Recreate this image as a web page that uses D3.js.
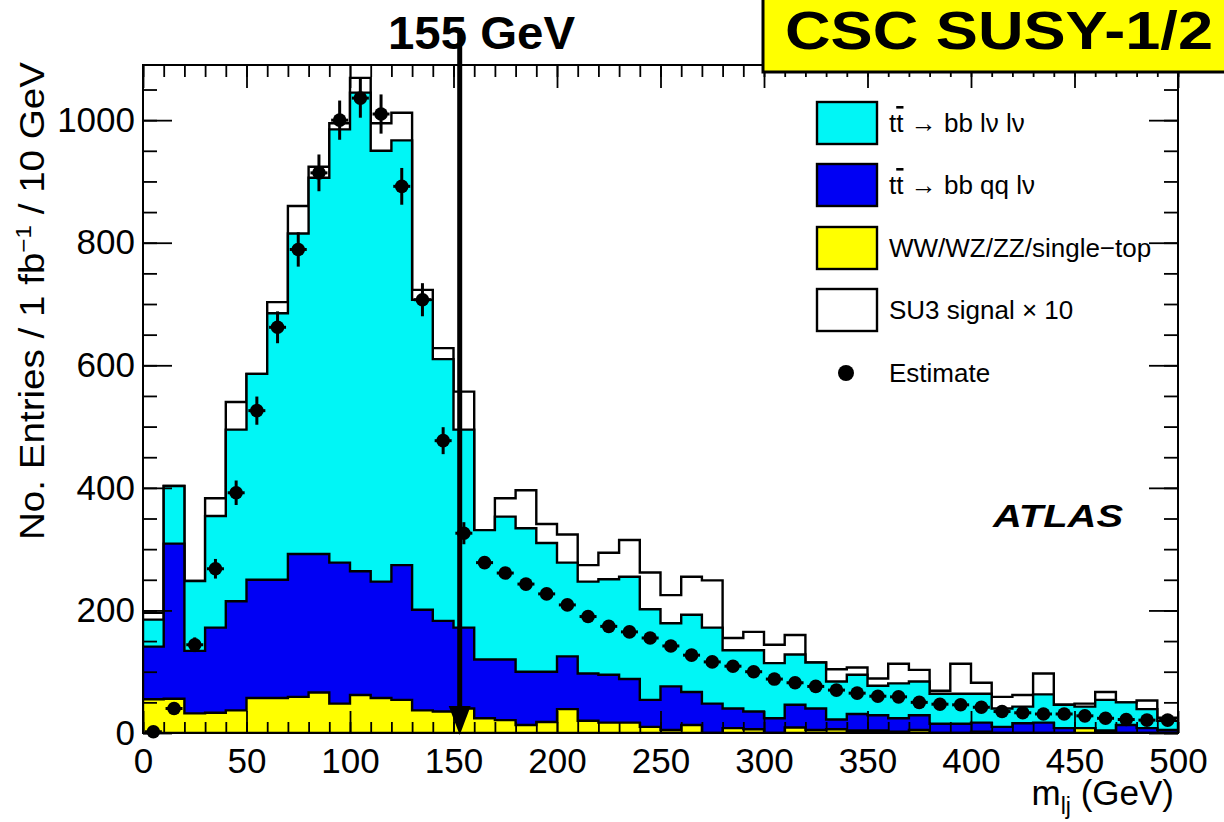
<!DOCTYPE html>
<html>
<head>
<meta charset="utf-8">
<script src="https://cdn.jsdelivr.net/npm/d3@7"></script>
<style>
  body { margin: 0; background: #fff; }
  svg { display: block; font-family: "Liberation Sans", Arial, sans-serif; }
</style>
</head>
<body>
<svg id="chart" width="1224" height="822"></svg>
<script>
// bin lower edges (GeV), 10 GeV bins
const binLow = [0, 10, 20, 30, 40, 50, 60, 70, 80, 90,
  100, 110, 120, 130, 140, 150, 160, 170, 180, 190,
  200, 210, 220, 230, 240, 250, 260, 270, 280, 290,
  300, 310, 320, 330, 340, 350, 360, 370, 380, 390,
  400, 410, 420, 430, 440, 450, 460, 470, 480, 490]

// stacked components, entries / 1 fb-1 / 10 GeV
const diboson = [55, 56, 32, 33, 37, 57, 57, 59, 66, 48,
  62, 57, 54, 37, 35, 40, 24, 21, 13, 18,
  39, 20, 17, 17, 10, 5, 13, 0, 8, 6,
  0, 9, 5, 6, 4, 4, 2, 5, 0, 0,
  2, 0, 0, 0, 0, 8, 0, 0, 0, 0]
const ttSemi = [86, 253, 102, 139, 178, 193, 193, 233, 226, 230,
  202, 190, 220, 164, 148, 132, 96, 99, 87, 82,
  86, 77, 78, 71, 44, 71, 54, 48, 32, 29,
  24, 37, 35, 16, 27, 25, 22, 24, 15, 15,
  15, 10, 16, 17, 8, 0, 4, 13, 8, 5]
const ttDilep = [44, 94, 114, 182, 280, 336, 435, 523, 614, 707,
  781, 703, 693, 506, 427, 323, 211, 233, 234, 210,
  153, 150, 156, 167, 148, 103, 126, 124, 95, 100,
  90, 82, 75, 62, 64, 48, 57, 55, 49, 49,
  47, 30, 27, 46, 38, 35, 50, 37, 31, 15]
const su3x10 = [11, 0, 0, 29, 45, 0, 18, 45, 18, 10,
  24, 45, 45, 16, 18, 62, 0, 30, 62, 31,
  46, 27, 43, 60, 60, 46, 62, 77, 20, 30,
  30, 32, 0, 20, 12, 12, 32, 19, 5, 49,
  18, 19, 19, 34, 0, 5, 13, 0, 14, 5]

// estimate points and their errors
const estimate = [2, 40, 144, 268, 392, 526, 662, 789, 914, 1000,
  1036, 1010, 892, 707, 477, 326, 278, 261, 243, 227,
  209, 190, 174, 165, 155, 142, 127, 116, 109, 100,
  88, 82, 76, 70, 65, 60, 59, 50, 47, 46,
  42, 35, 33, 31, 31, 28, 24, 22, 21, 21]
const estErr = [2, 7, 12, 16, 20, 23, 26, 28, 30, 32,
  32, 32, 30, 27, 22, 18, 6, 6, 6, 6,
  5, 5, 5, 5, 5, 5, 5, 5, 4, 4,
  4, 4, 4, 4, 4, 4, 4, 3, 3, 3,
  3, 3, 3, 3, 3, 3, 3, 3, 3, 3]

const seriesKeys = ["diboson", "ttSemi", "ttDilep", "su3"]
const seriesColors = {diboson: "#ffff00", ttSemi: "#0000f4", ttDilep: "#00f6f6", su3: "#ffffff"}

const xTicks = [0, 50, 100, 150, 200, 250, 300, 350, 400, 450, 500]
const yTicks = [0, 200, 400, 600, 800, 1000]
const cutAt = 153   // where the arrow is drawn
const cutLabel = "155 GeV"

const binWidth = 10

let svg = d3.select("#chart")

let plot = {left: 143, right: 1178, top: 65, bottom: 733}

const x = d3.scaleLinear().domain([0, 500]).range([plot.left, plot.right])
const y = d3.scaleLinear().domain([0, 1090]).range([plot.bottom, plot.top])

svg.append("defs").append("clipPath").attr("id", "plotclip")
    .append("rect")
    .attr("x", plot.left).attr("y", plot.top)
    .attr("width", plot.right - plot.left).attr("height", plot.bottom - plot.top)

// STACK
let table = binLow.map((lo, i) => ({
    lo: lo,
    diboson: diboson[i],
    ttSemi: ttSemi[i],
    ttDilep: ttDilep[i],
    su3: su3x10[i]
}))

let stacked = d3.stack().keys(seriesKeys)(table)

let stepArea = d3.area()
    .x(d => x(d[0]))
    .y0(y(0))
    .y1(d => y(d[1]))

let histG = svg.append("g").attr("clip-path", "url(#plotclip)")

// draw from the top layer down, so each outline stays visible
for (let layer of stacked.slice().reverse()) {
    let pts = []
    layer.forEach(d => {
        pts.push([d.data.lo, d[1]])
        pts.push([d.data.lo + binWidth, d[1]])
    })
    histG.append("path")
        .attr("d", stepArea(pts))
        .attr("fill", seriesColors[layer.key])
        .attr("stroke", "#000")
        .attr("stroke-width", 2.4)
        .attr("stroke-linejoin", "miter")
}

// AXES
function tickAxis(axis, vals, size) {
    return axis.tickValues(vals).tickSize(size).tickFormat("")
}
let minorX = d3.range(0, 501, 10)
let minorY = d3.range(0, 1091, 50)

let axG = svg.append("g").attr("class", "axes")

axG.append("g").attr("transform", "translate(0," + plot.bottom + ")")
    .call(tickAxis(d3.axisBottom(x), minorX, -11))
axG.append("g").attr("transform", "translate(0," + plot.bottom + ")")
    .call(d3.axisBottom(x).tickValues(xTicks).tickSize(-22).tickPadding(15).tickFormat(d3.format("d")))
axG.append("g").attr("transform", "translate(0," + plot.top + ")")
    .call(tickAxis(d3.axisTop(x), minorX, -12))
axG.append("g").attr("transform", "translate(0," + plot.top + ")")
    .call(tickAxis(d3.axisTop(x), xTicks, -23))

axG.append("g").attr("transform", "translate(" + plot.left + ",0)")
    .call(tickAxis(d3.axisLeft(y), minorY, -14))
axG.append("g").attr("transform", "translate(" + plot.left + ",0)")
    .call(d3.axisLeft(y).tickValues(yTicks).tickSize(-29).tickPadding(8).tickFormat(d3.format("d")))
axG.append("g").attr("transform", "translate(" + plot.right + ",0)")
    .call(tickAxis(d3.axisRight(y), minorY, -14))
axG.append("g").attr("transform", "translate(" + plot.right + ",0)")
    .call(tickAxis(d3.axisRight(y), yTicks, -29))

axG.selectAll(".domain").remove()
axG.selectAll(".tick line").attr("stroke", "#000").attr("stroke-width", 1.8)
axG.selectAll(".tick text")
    .attr("fill", "#000")
    .style("font-family", "Liberation Sans, Arial, sans-serif")
    .style("font-size", "35px")
// END AXES

svg.append("rect")
    .attr("x", plot.left).attr("y", plot.top)
    .attr("width", plot.right - plot.left).attr("height", plot.bottom - plot.top)
    .attr("fill", "none").attr("stroke", "#000").attr("stroke-width", 2)

// ESTIMATE POINTS
let ptG = svg.append("g")
binLow.forEach((lo, i) => {
    let cx = x(lo + binWidth / 2)
    let cy = y(estimate[i])
    ptG.append("line")
        .attr("x1", cx).attr("x2", cx)
        .attr("y1", y(estimate[i] - estErr[i])).attr("y2", y(estimate[i] + estErr[i]))
        .attr("stroke", "#000").attr("stroke-width", 3)
    ptG.append("line")
        .attr("x1", cx - 8.5).attr("x2", cx + 8.5)
        .attr("y1", cy).attr("y2", cy)
        .attr("stroke", "#000").attr("stroke-width", 3)
    ptG.append("circle")
        .attr("cx", cx).attr("cy", cy).attr("r", 6.8)
        .attr("fill", "#000")
})

// LEGEND
let legendItems = [
    {key: "ttDilep", rest: " \u2192 bb l\u03bd l\u03bd", tt: true},
    {key: "ttSemi", rest: " \u2192 bb qq l\u03bd", tt: true},
    {key: "diboson", label: "WW/WZ/ZZ/single\u2212top"},
    {key: "su3", label: "SU3 signal \u00d7 10"},
    {key: "estimate", label: "Estimate"}
]
let legG = svg.append("g")
let rowY = [123, 185, 248, 310, 373]
legendItems.forEach((it, i) => {
    if (it.key == "estimate") {
        legG.append("circle").attr("cx", 846).attr("cy", rowY[i]).attr("r", 8).attr("fill", "#000")
    } else {
        legG.append("rect")
            .attr("x", 817).attr("y", rowY[i] - 21)
            .attr("width", 60).attr("height", 42)
            .attr("fill", seriesColors[it.key])
            .attr("stroke", "#000").attr("stroke-width", 2.4)
    }
    let t = legG.append("text")
        .attr("x", 889).attr("y", rowY[i] + 9)
        .style("font-size", "26px")
        .attr("fill", "#000")
    if (it.tt) {
        t.append("tspan").text("t")
        t.append("tspan").text("t").style("text-decoration", "overline")
        t.append("tspan").text(it.rest)
    } else {
        t.text(it.label)
    }
})

// ATLAS label
svg.append("text")
    .attr("x", 993).attr("y", 527)
    .style("font-size", "32px").style("font-weight", "bold").style("font-style", "italic")
    .attr("textLength", 130).attr("lengthAdjust", "spacingAndGlyphs")
    .text("ATLAS")

// axis titles
let xt = svg.append("text")
    .attr("x", 1174).attr("y", 805)
    .style("text-anchor", "end")
    .style("font-size", "35px")
xt.append("tspan").text("m")
xt.append("tspan").text("lj").style("font-size", "23px").attr("dy", 9)
xt.append("tspan").text(" (GeV)").attr("dy", -9)

let yt = svg.append("text")
    .attr("transform", "translate(44,301) rotate(-90)")
    .style("text-anchor", "middle")
    .style("font-size", "35px")
    .attr("textLength", 478).attr("lengthAdjust", "spacingAndGlyphs")
yt.append("tspan").text("No. Entries / 1 fb")
yt.append("tspan").text("\u22121").style("font-size", "22px").attr("dy", -13)
yt.append("tspan").text(" / 10 GeV").attr("dy", 13)

// CUT ARROW
let ax = x(cutAt)
svg.append("text")
    .attr("x", 388).attr("y", 49)
    .style("font-size", "46px").style("font-weight", "bold")
    .attr("textLength", 187).attr("lengthAdjust", "spacingAndGlyphs")
    .text(cutLabel)
svg.append("line")
    .attr("x1", ax).attr("x2", ax)
    .attr("y1", 28).attr("y2", plot.bottom - 24)
    .attr("stroke", "#000").attr("stroke-width", 5)
svg.append("path")
    .attr("d", d3.line()([[ax - 11, plot.bottom - 27], [ax + 11, plot.bottom - 27], [ax, plot.bottom + 2]]) + "Z")
    .attr("fill", "#000")

// CSC box
svg.append("rect")
    .attr("x", 763).attr("y", -4)
    .attr("width", 470).attr("height", 76)
    .attr("fill", "#ffff00")
    .attr("stroke", "#000").attr("stroke-width", 3)
svg.append("text")
    .attr("x", 785).attr("y", 49)
    .style("font-size", "54px").style("font-weight", "bold")
    .attr("textLength", 428).attr("lengthAdjust", "spacingAndGlyphs")
    .text("CSC SUSY-1/2")
</script>
</body>
</html>
